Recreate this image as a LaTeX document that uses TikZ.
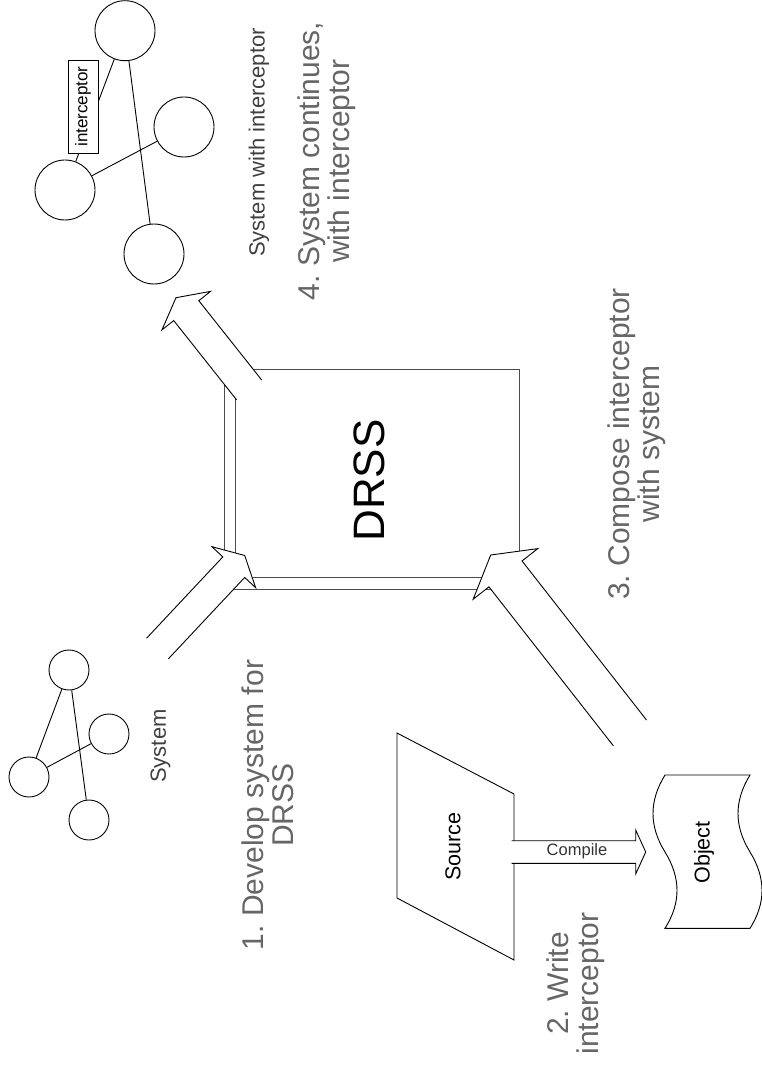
\documentclass[tikz,border=0pt]{standalone}
\usepackage{fontspec}
\setmainfont{Liberation Sans}
\usetikzlibrary{calc, shadows}
\frenchspacing

% hollow block arrow: #1 tail, #2 tip, #3 half shaft, #4 half head, #5 head length
\newcommand{\blockarrow}[5]{%
  \coordinate (ba-h)  at ($(#2)!#5!(#1)$);
  \coordinate (ba-t1) at ($(#1)!#3!90:(#2)$);
  \coordinate (ba-t2) at ($(#1)!#3!-90:(#2)$);
  \coordinate (ba-n1) at ($(ba-h)!#3!-90:(#1)$);
  \coordinate (ba-n2) at ($(ba-h)!#3!90:(#1)$);
  \coordinate (ba-b1) at ($(ba-h)!#4!-90:(#1)$);
  \coordinate (ba-b2) at ($(ba-h)!#4!90:(#1)$);
  \fill[white] (ba-t1) -- (ba-n1) -- (ba-b1) -- (#2) -- (ba-b2) -- (ba-n2) -- (ba-t2) -- cycle;
  \draw[blockline] (ba-t1) -- (ba-n1) -- (ba-b1) -- (#2) -- (ba-b2) -- (ba-n2) -- (ba-t2);
}

\begin{document}
\begin{tikzpicture}[
    x=1pt, y=-1pt,
    line width=0.9pt,
    bignode/.style = {circle, draw, minimum size=60pt, inner sep=0pt},
    smallnode/.style = {circle, draw, minimum size=40pt, inner sep=0pt},
    icpt/.style = {
        rectangle,
        draw,
        fill=white,
        rotate=90,
        minimum width=93pt,
        minimum height=30pt,
        inner sep=1pt,
        font=\fontsize{17}{20}\selectfont
    },
    tag/.style = {rotate=90, inner sep=0pt, font=\fontsize{22}{26}\selectfont},
    steplabel/.style = {
        rotate=90,
        align=center,
        inner sep=0pt,
        text=black!60,
        font=\fontsize{30}{30}\selectfont
    },
    drssbox/.style = {
        rectangle,
        draw=black!70,
        fill=white,
        minimum width=284pt,
        minimum height=208pt,
        copy shadow={shadow xshift=-10.7pt, shadow yshift=-11.6pt, draw=black!70, fill=white}
    },
    blockline/.style = {line join=miter}
]
\useasboundingbox (0,0) rectangle (762,1067);

%% System with interceptor
\node[bignode] (bt) at (125,30.7) {};
\node[bignode] (br) at (184,127) {};
\node[bignode] (bl) at (65,190) {};
\node[bignode] (bb) at (154,254) {};
\draw (bt) -- (bl);
\draw (bt) -- (bb);
\draw (bl) -- (br);
\node[icpt] (icpt) at (83,106.5) {interceptor};
\node[tag, text=black!75] (sysicpt) at (259,142.5) {System with interceptor};

%% System
\node[smallnode] (st) at (69,670) {};
\node[smallnode] (sr) at (109,734) {};
\node[smallnode] (sl) at (29,777) {};
\node[smallnode] (sb) at (89,820) {};
\draw (st) -- (sl);
\draw (st) -- (sb);
\draw (sl) -- (sr);
\node[tag, text=black!75] (sys) at (160.5,746) {System};

%% Step labels
\node[steplabel] (step1) at (268,805) {1. Develop system for\\DRSS};
\node[steplabel] (step2) at (576,983.5) {2. Write\\interceptor};
\node[steplabel] (step3) at (637,444) {3. Compose interceptor\\with system};
\node[steplabel] (step4) at (327,161) {4. System continues,\\with interceptor};

%% DRSS
\node[drssbox] (drss) at (377.2,473.5) {};
\node[rotate=90, inner sep=0pt, font=\fontsize{44}{50}\selectfont] (drsslbl) at (369,480.5) {DRSS};

%% Block arrows to and from DRSS
\coordinate (a1-tail) at (157.5,648.5);
\coordinate (a1-tip) at (244.7,555.5);
\coordinate (a2-tail) at (630,733);
\coordinate (a2-tip) at (490.7,555);
\coordinate (a3-tail) at (249.2,390);
\coordinate (a3-tip) at (176,297.7);
\blockarrow{a1-tail}{a1-tip}{15pt}{30pt}{16pt}
\blockarrow{a2-tail}{a2-tip}{21pt}{41pt}{24pt}
\blockarrow{a3-tail}{a3-tip}{16pt}{31pt}{16.5pt}

%% Source, compile, object
\draw (397,733) -- (514,794) -- (514,960) -- (397,898) -- cycle;
\node[tag, font=\fontsize{21.5}{26}\selectfont] (src) at (453,846.5) {Source};

\coordinate (cmp-tail) at (511.7,852);
\coordinate (cmp-tip) at (645.7,852);
\blockarrow{cmp-tail}{cmp-tip}{11.3pt}{22pt}{10pt}
\node[inner sep=0pt, text=black!80, font=\fontsize{16.5}{20}\selectfont] (cmp) at (577,851.5) {Compile};

\draw (665,775) -- (750,775)
    .. controls (734,801) and (734,826) .. (750,852)
    .. controls (766,878) and (766,903) .. (750,928.3)
    -- (665,928.3)
    .. controls (681,903) and (681,878) .. (665,852)
    .. controls (649,826) and (649,801) .. (665,775) -- cycle;
\node[tag, font=\fontsize{21.5}{26}\selectfont] (obj) at (704,852.5) {Object};

\end{tikzpicture}
\end{document}
